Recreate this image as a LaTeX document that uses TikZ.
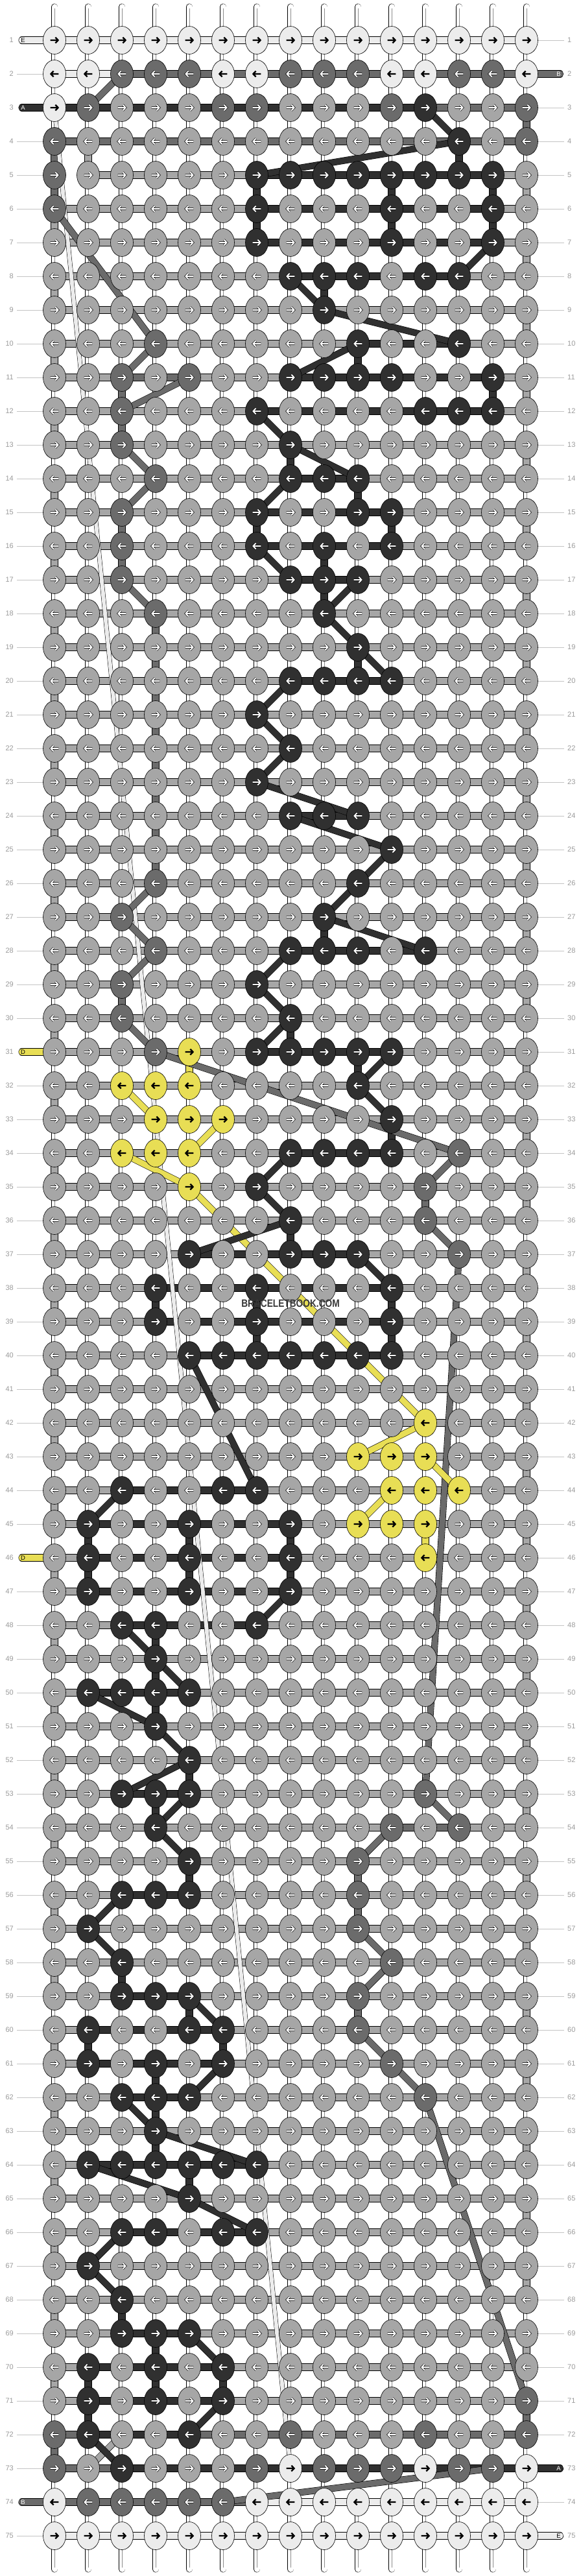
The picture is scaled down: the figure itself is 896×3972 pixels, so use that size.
\documentclass[tikz,border=0pt]{standalone}
\usepackage{fontspec}
\setmainfont{Liberation Sans}
\usetikzlibrary{shapes.geometric,backgrounds}

\definecolor{thrA}{HTML}{303030}
\definecolor{thrB}{HTML}{6B6B6B}
\definecolor{thrC}{HTML}{A6A6A6}
\definecolor{thrD}{HTML}{E8DE55}
\definecolor{thrE}{HTML}{ECECEC}
\definecolor{numgray}{HTML}{9A9A9A}
\definecolor{numline}{HTML}{C4C4C4}

% knot colours, one string per row
\newcount\kncol
\newcount\kfa \newcount\kla \newcount\kfb \newcount\klb
\def\knscan#1{%
  \ifx#1\relax\else
    \global\advance\kncol by 1
    \expandafter\xdef\csname kc-\knrow-\the\kncol\endcsname{#1}%
    \if#1A\ifnum\kfa=0 \global\kfa=\kncol\fi\global\kla=\kncol\fi
    \if#1B\ifnum\kfb=0 \global\kfb=\kncol\fi\global\klb=\kncol\fi
    \expandafter\knscan
  \fi}
\newcommand\knotrow[2]{%
  \xdef\knrow{#1}\global\kncol=0 \global\kfa=0 \global\kla=0 \global\kfb=0 \global\klb=0
  \knscan#2\relax
  \expandafter\xdef\csname kfa-#1\endcsname{\the\kfa}%
  \expandafter\xdef\csname kla-#1\endcsname{\the\kla}%
  \expandafter\xdef\csname kfb-#1\endcsname{\the\kfb}%
  \expandafter\xdef\csname klb-#1\endcsname{\the\klb}}
% links given by hand
\def\klscan#1{%
  \ifx#1\relax\else
    \global\advance\kncol by 1
    \expandafter\xdef\csname kl-\knrow-\the\kncol\endcsname{#1}%
    \expandafter\klscan
  \fi}
\newcommand\linkrow[2]{\xdef\knrow{#1}\global\kncol=0 \klscan#2\relax}
\newcommand\vlink[3]{\expandafter\def\csname vx-#1-#2\endcsname{#3}}
\newcommand\leftstub[2]{\expandafter\def\csname sl-#1\endcsname{#2}}
\newcommand\rightstub[2]{\expandafter\def\csname sr-#1\endcsname{#2}}
\newcommand\knotarrow[1]{\draw[#1] (-6.4,0) -- (5,0) (1.4,-4.4) -- (5.6,0) -- (1.4,4.4);}

\knotrow{1}{EEEEEEEEEEEEEEE}
\knotrow{2}{EEBBBEEBBBEEBBE}
\knotrow{3}{EBCCCBBCCCBACCB}
\knotrow{4}{BCCCCCCCCCCCACB}
\knotrow{5}{BCCCCCAAAAAAAAC}
\knotrow{6}{BCCCCCACCCACCAC}
\knotrow{7}{CCCCCCACCCACCAC}
\knotrow{8}{CCCCCCCAAACAACC}
\knotrow{9}{CCCCCCCCACCCCCC}
\knotrow{10}{CCCBCCCCCACCACC}
\knotrow{11}{CCBCBCCAAAACCAC}
\knotrow{12}{CCBCCCACCCCAAAC}
\knotrow{13}{CCBCCCCACCCCCCC}
\knotrow{14}{CCCBCCCAAACCCCC}
\knotrow{15}{CCBCCCACCAACCCC}
\knotrow{16}{CCBCCCACACACCCC}
\knotrow{17}{CCBCCCCAAACCCCC}
\knotrow{18}{CCCBCCCCACCCCCC}
\knotrow{19}{CCCCCCCCCACCCCC}
\knotrow{20}{CCCCCCCAAAACCCC}
\knotrow{21}{CCCCCCACCCCCCCC}
\knotrow{22}{CCCCCCCACCCCCCC}
\knotrow{23}{CCCCCCACCCCCCCC}
\knotrow{24}{CCCCCCCAAACCCCC}
\knotrow{25}{CCCCCCCCCCACCCC}
\knotrow{26}{CCCBCCCCCACCCCC}
\knotrow{27}{CCBCCCCCACCCCCC}
\knotrow{28}{CCCBCCCAAACACCC}
\knotrow{29}{CCBCCCACCCCCCCC}
\knotrow{30}{CCBCCCCACCCCCCC}
\knotrow{31}{CCCBDCAAAAACCCC}
\knotrow{32}{CCDDDCCCCACCCCC}
\knotrow{33}{CCCDDDCCCCACCCC}
\knotrow{34}{CCDDDCCAAAACBCC}
\knotrow{35}{CCCCDCACCCCBCCC}
\knotrow{36}{CCCCCCCACCCBCCC}
\knotrow{37}{CCCCACCAAACCBCC}
\knotrow{38}{CCCACCACCCACCCC}
\knotrow{39}{CCCACCACCCACCCC}
\knotrow{40}{CCCCAAAAAAACCCC}
\knotrow{41}{CCCCCCCCCCCCCCC}
\knotrow{42}{CCCCCCCCCCCDCCC}
\knotrow{43}{CCCCCCCCCDDDCCC}
\knotrow{44}{CCACCAACCCDDDCC}
\knotrow{45}{CACCACCACDDDCCC}
\knotrow{46}{CACCACCACCCDCCC}
\knotrow{47}{CACCACCACCCCCCC}
\knotrow{48}{CCAACCACCCCCCCC}
\knotrow{49}{CCCACCCCCCCCCCC}
\knotrow{50}{CAAAACCCCCCCCCC}
\knotrow{51}{CCCACCCCCCCCCCC}
\knotrow{52}{CCCCACCCCCCCCCC}
\knotrow{53}{CCAAACCCCCCBCCC}
\knotrow{54}{CCCACCCCCCBCBCC}
\knotrow{55}{CCCCACCCCBCCCCC}
\knotrow{56}{CCAAACCCCBCCCCC}
\knotrow{57}{CACCCCCCCBCCCCC}
\knotrow{58}{CCACCCCCCCBCCCC}
\knotrow{59}{CCAAACCCCBCCCCC}
\knotrow{60}{CACCAACCCBCCCCC}
\knotrow{61}{CACACACCCCBCCCC}
\knotrow{62}{CCAAACCCCCCBCCC}
\knotrow{63}{CCCACCCCCCCCCCC}
\knotrow{64}{CAAAAAACCCCCCCC}
\knotrow{65}{CCCCACCCCCCCCCC}
\knotrow{66}{CCAACAACCCCCCCC}
\knotrow{67}{CACCCCCCCCCCCCC}
\knotrow{68}{CCACCCCCCCCCCCC}
\knotrow{69}{CCAAACCCCCCCCCC}
\knotrow{70}{CACACACCCCCCCCC}
\knotrow{71}{CACACACCCCCCCCB}
\knotrow{72}{BACCACCBCCCBCCB}
\knotrow{73}{BCACCCBEBBBEBBE}
\knotrow{74}{EBBBBBEEEEEEEEE}
\knotrow{75}{EEEEEEEEEEEEEEE}

\linkrow{1}{EEEEEEEEEEEEEE}
\linkrow{2}{EEBBBBBBBBBBBB}
\linkrow{3}{AAAAAAAAAAABBB}
\linkrow{4}{BBBBBBBBBBBBBB}
\linkrow{5}{NCCCCCAAAAAAAC}
\linkrow{72}{BAAABBBBBBBBBB}
\linkrow{73}{BBAAAAAAAAAAAA}
\linkrow{74}{BBBBBBEEEEEEEE}
\linkrow{75}{EEEEEEEEEEEEEE}

\vlink{4}{2}{C}\vlink{31}{5}{D}\vlink{45}{12}{D}
\vlink{18}{4}{B}\vlink{19}{4}{B}\vlink{20}{4}{B}\vlink{21}{4}{B}
\vlink{22}{4}{B}\vlink{23}{4}{B}\vlink{24}{4}{B}\vlink{25}{4}{B}

\leftstub{1}{E}\leftstub{3}{A}\leftstub{31}{D}\leftstub{46}{D}\leftstub{74}{B}
\rightstub{2}{B}\rightstub{73}{A}\rightstub{75}{E}

\begin{document}
\begin{tikzpicture}[
        x=1pt, y=-1pt,
        knot/.style={ellipse, draw=black, line width=.6pt, fill=#1, minimum width=35pt, minimum height=43pt, inner sep=0pt},
        hlink/.style={draw=black, line width=.6pt, double=#1, double distance=10pt},
        vwhite/.style={draw=black, line width=.6pt, double=white, double distance=9pt},
        vmid/.style={draw=black!45, line width=.4pt},
        vstub/.style={vwhite, line cap=round},
        sidestub/.style={hlink=#1, line cap=round},
        thread/.style={draw=black, line width=.6pt, double=#1, double distance=9pt},
        eline/.style={draw=black, line width=.5pt, double=thrE, double distance=6pt},
        rowline/.style={draw=numline, line width=.8pt},
        rownum/.style={text=numgray, font=\fontsize{11}{11}\selectfont, inner sep=0pt},
        stubtext/.style={font=\fontsize{9.5}{9.5}\selectfont, inner sep=0pt},
        rimarrow/.style={draw=black, line width=3.2pt},
        lightarrow/.style={draw=white, line width=1.9pt},
        darkarrow/.style={draw=black, line width=2.3pt},
        watermark/.style={font=\fontsize{16.5}{16.5}\selectfont\bfseries, text=black!78, inner sep=0pt},
]
        \useasboundingbox (0,0) rectangle (896,3972);

        % row numbers
        \foreach \r in {1,...,75}{
            \node[rownum, anchor=east] (nl\r) at (21,{10+52*\r}) {\r};
            \node[rownum, anchor=west] (nr\r) at (875,{10+52*\r}) {\r};
        }

        % knots
        \foreach \r in {1,...,75}{
            \ifodd\r \def\kdir{1}\else \def\kdir{-1}\fi
            \foreach \c in {1,...,15}{
                \edef\kk{\csname kc-\r-\c\endcsname}
                \node[knot=thr\kk] (k\r-\c) at ({32+52*\c},{10+52*\r}) {};
                \begin{scope}[shift={(k\r-\c.center)}, xscale=\kdir]
                    \if\kk E\knotarrow{darkarrow}\else\if\kk D\knotarrow{darkarrow}\else
                        \knotarrow{rimarrow}\knotarrow{lightarrow}\fi\fi
                \end{scope}
            }
        }

        % thread ends at the sides
        \foreach \r in {1,...,75}{
            \ifcsname sl-\r\endcsname
                \edef\s{\csname sl-\r\endcsname}
                \coordinate (sl\r) at (34,{10+52*\r});
                \if\s A\def\st{white}\else\if\s B\def\st{white}\else\def\st{black}\fi\fi
                \node[stubtext, text=\st] (tl\r) at (35.5,{10+52*\r}) {\s};
            \fi
            \ifcsname sr-\r\endcsname
                \edef\s{\csname sr-\r\endcsname}
                \coordinate (sr\r) at (863.5,{10+52*\r});
                \if\s A\def\st{white}\else\if\s B\def\st{white}\else\def\st{black}\fi\fi
                \node[stubtext, text=\st] (tr\r) at (861.5,{10+52*\r}) {\s};
            \fi
        }

        \node[watermark] (mark) at (448,2010) {\scalebox{0.83}[1]{BRACELETBOOK.COM}};

        \begin{pgfonlayer}{background}
            \foreach \r in {1,...,75}{
                \ifcsname sl-\r\endcsname\else \draw[rowline] ([xshift=5pt]nl\r.east) -- (k\r-1.center);\fi
                \ifcsname sr-\r\endcsname\else \draw[rowline] (k\r-15.center) -- ([xshift=-5pt]nr\r.west);\fi
            }

            % strands above and below
            \foreach \c in {1,...,15}{
                \coordinate (st\c) at ({32+52*\c},10.6);
                \coordinate (sb\c) at ({32+52*\c},3961.4);
                \draw[vstub] (st\c) -- (k1-\c.center);
                \draw[vmid] ([yshift=-2pt]st\c) -- (k1-\c.center);
                \draw[vstub] (k75-\c.center) -- (sb\c);
                \draw[vmid] (k75-\c.center) -- ([yshift=2pt]sb\c);
            }

            % links between rows
            \foreach \r [evaluate=\r as \rn using int(\r+1)] in {1,...,74}{
                \foreach \c in {1,...,15}{
                    \edef\ka{\csname kc-\r-\c\endcsname}
                    \edef\kb{\csname kc-\rn-\c\endcsname}
                    \def\vc{W}
                    \ifnum\r>4 \ifnum\r<71
                        \ifodd\r \ifnum\c=15 \def\vc{C}\fi \else \ifnum\c=1 \def\vc{C}\fi \fi
                    \fi\fi
                    \ifx\ka\kb \if\ka A\def\vc{A}\fi \if\ka B\def\vc{B}\fi \fi
                    \ifcsname vx-\r-\c\endcsname \edef\vc{\csname vx-\r-\c\endcsname}\fi
                    \if\vc W
                        \draw[vwhite] (k\r-\c.center) -- (k\rn-\c.center);
                        \draw[vmid] (k\r-\c.center) -- (k\rn-\c.center);
                    \else
                        \draw[hlink=thr\vc] (k\r-\c.center) -- (k\rn-\c.center);
                    \fi
                }
            }

            % links along rows
            \foreach \r in {1,...,75}{
                \foreach \c [evaluate=\c as \cn using int(\c+1)] in {1,...,14}{
                    \def\lc{C}
                    \ifnum\c<\csname klb-\r\endcsname\relax \ifnum\c<\csname kfb-\r\endcsname\relax\else\def\lc{B}\fi\fi
                    \ifnum\c<\csname kla-\r\endcsname\relax \ifnum\c<\csname kfa-\r\endcsname\relax\else\def\lc{A}\fi\fi
                    \ifcsname kl-\r-\c\endcsname \edef\lc{\csname kl-\r-\c\endcsname}\fi
                    \if\lc N\else
                        \draw[hlink=thr\lc] (k\r-\c.center) -- (k\r-\cn.center);
                    \fi
                }
            }

            \foreach \r in {1,...,75}{
                \ifcsname sl-\r\endcsname
                    \edef\s{\csname sl-\r\endcsname}
                    \draw[sidestub=thr\s] (sl\r) -- (k\r-1.center);
                \fi
                \ifcsname sr-\r\endcsname
                    \edef\s{\csname sr-\r\endcsname}
                    \draw[sidestub=thr\s] (k\r-15.center) -- (sr\r);
                \fi
            }

            \draw[eline] (k3-1.center) -- (k73-8.center);

            % threads changing place
            \foreach \ra/\ca/\rb/\cb/\t in {
                2/3/3/2/B, 6/1/10/4/B, 10/4/11/3/B, 11/5/12/3/B, 13/3/14/4/B, 14/4/15/3/B,
                17/3/18/4/B, 26/4/27/3/B, 27/3/28/4/B, 28/4/29/3/B, 30/3/31/4/B, 31/4/34/13/B,
                34/13/35/12/B, 36/12/37/13/B, 37/13/53/12/B, 53/12/54/13/B, 54/11/55/10/B,
                57/10/58/11/B, 58/11/59/10/B, 60/10/61/11/B, 61/11/62/12/B, 62/12/71/15/B,
                74/6/73/14/B, 72/3/73/2/C,
                32/3/33/4/D, 33/6/34/5/D, 34/3/35/5/D, 35/5/42/12/D, 42/12/43/10/D,
                43/12/44/13/D, 44/11/45/10/D,
                3/12/4/13/A, 4/13/5/7/A, 8/8/9/9/A, 8/13/7/14/A, 9/9/10/13/A, 10/10/11/8/A,
                12/7/13/8/A, 13/8/14/10/A, 14/8/15/7/A, 16/7/17/8/A, 17/10/18/9/A,
                18/9/19/10/A, 19/10/20/11/A, 20/8/21/7/A, 21/7/22/8/A, 22/8/23/7/A,
                23/7/24/10/A, 24/8/25/11/A, 25/11/26/10/A, 26/10/27/9/A, 27/9/28/12/A,
                28/8/29/7/A, 29/7/30/8/A, 30/8/31/7/A, 31/11/32/10/A, 32/10/33/11/A,
                34/8/35/7/A, 35/7/36/8/A, 36/8/37/5/A, 37/10/38/11/A, 40/5/44/7/A,
                44/3/45/2/A, 47/8/48/7/A, 48/3/49/4/A, 49/4/50/5/A, 50/2/51/4/A,
                51/4/52/5/A, 52/5/53/3/A, 53/5/54/4/A, 54/4/55/5/A, 56/3/57/2/A,
                57/2/58/3/A, 59/5/60/6/A, 61/6/62/5/A, 62/3/63/4/A, 63/4/64/7/A,
                64/2/65/5/A, 65/5/66/7/A, 66/3/67/2/A, 67/2/68/3/A, 69/5/70/6/A,
                71/6/72/5/A, 72/2/73/3/A}
                \draw[thread=thr\t] (k\ra-\ca.center) -- (k\rb-\cb.center);
        \end{pgfonlayer}
\end{tikzpicture}
\end{document}
